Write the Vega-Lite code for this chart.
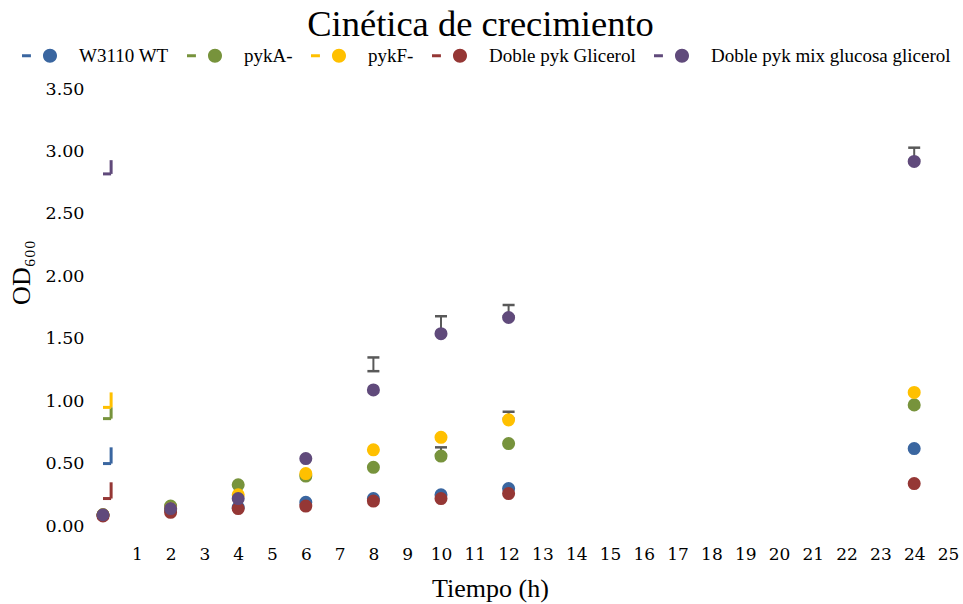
{
  "$schema": "https://vega.github.io/schema/vega-lite/v6.json",
  "width": 845,
  "height": 437,
  "autosize": {"type": "none"},
  "padding": {"left": 103, "top": 89, "right": 15, "bottom": 78},
  "background": "white",
  "title": {
    "text": "Cinética de crecimiento",
    "font": "Liberation Serif",
    "fontSize": 36.5,
    "fontWeight": "normal",
    "color": "#000000",
    "anchor": "middle",
    "frame": "group",
    "dx": -45,
    "baseline": "alphabetic",
    "offset": -34
  },
  "datasets": {
    "points": [
      {"t": 0, "serie": "W3110 WT", "od": 0.09},
      {"t": 2, "serie": "W3110 WT", "od": 0.13},
      {"t": 4, "serie": "W3110 WT", "od": 0.15},
      {"t": 6, "serie": "W3110 WT", "od": 0.19},
      {"t": 8, "serie": "W3110 WT", "od": 0.22},
      {"t": 10, "serie": "W3110 WT", "od": 0.25},
      {"t": 12, "serie": "W3110 WT", "od": 0.30},
      {"t": 24, "serie": "W3110 WT", "od": 0.62},
      {"t": 0, "serie": "pykA-", "od": 0.09},
      {"t": 2, "serie": "pykA-", "od": 0.16},
      {"t": 4, "serie": "pykA-", "od": 0.33},
      {"t": 6, "serie": "pykA-", "od": 0.40},
      {"t": 8, "serie": "pykA-", "od": 0.47},
      {"t": 10, "serie": "pykA-", "od": 0.56},
      {"t": 12, "serie": "pykA-", "od": 0.66},
      {"t": 24, "serie": "pykA-", "od": 0.97},
      {"t": 0, "serie": "pykF-", "od": 0.09},
      {"t": 2, "serie": "pykF-", "od": 0.14},
      {"t": 4, "serie": "pykF-", "od": 0.25},
      {"t": 6, "serie": "pykF-", "od": 0.42},
      {"t": 8, "serie": "pykF-", "od": 0.61},
      {"t": 10, "serie": "pykF-", "od": 0.71},
      {"t": 12, "serie": "pykF-", "od": 0.85},
      {"t": 24, "serie": "pykF-", "od": 1.07},
      {"t": 0, "serie": "Doble pyk Glicerol", "od": 0.08},
      {"t": 2, "serie": "Doble pyk Glicerol", "od": 0.11},
      {"t": 4, "serie": "Doble pyk Glicerol", "od": 0.14},
      {"t": 6, "serie": "Doble pyk Glicerol", "od": 0.16},
      {"t": 8, "serie": "Doble pyk Glicerol", "od": 0.20},
      {"t": 10, "serie": "Doble pyk Glicerol", "od": 0.22},
      {"t": 12, "serie": "Doble pyk Glicerol", "od": 0.26},
      {"t": 24, "serie": "Doble pyk Glicerol", "od": 0.34},
      {"t": 0, "serie": "Doble pyk mix glucosa glicerol", "od": 0.09},
      {"t": 2, "serie": "Doble pyk mix glucosa glicerol", "od": 0.14},
      {"t": 4, "serie": "Doble pyk mix glucosa glicerol", "od": 0.22},
      {"t": 6, "serie": "Doble pyk mix glucosa glicerol", "od": 0.54},
      {"t": 8, "serie": "Doble pyk mix glucosa glicerol", "od": 1.09},
      {"t": 10, "serie": "Doble pyk mix glucosa glicerol", "od": 1.54},
      {"t": 12, "serie": "Doble pyk mix glucosa glicerol", "od": 1.67},
      {"t": 24, "serie": "Doble pyk mix glucosa glicerol", "od": 2.92}
    ],
    "errors": [
      {"t": 8, "serie": "Doble pyk mix glucosa glicerol", "lo": 1.24, "hi": 1.35},
      {"t": 10, "serie": "Doble pyk mix glucosa glicerol", "lo": 1.55, "hi": 1.68},
      {"t": 12, "serie": "Doble pyk mix glucosa glicerol", "lo": 1.68, "hi": 1.77},
      {"t": 24, "serie": "Doble pyk mix glucosa glicerol", "lo": 2.93, "hi": 3.03},
      {"t": 10, "serie": "pykA-", "lo": 0.57, "hi": 0.63},
      {"t": 12, "serie": "pykF-", "lo": 0.86, "hi": 0.915}
    ],
    "stubs": [
      {"serie": "Doble pyk mix glucosa glicerol", "lo": 2.82, "hi": 2.93},
      {"serie": "pykF-", "lo": 0.95, "hi": 1.07},
      {"serie": "pykA-", "lo": 0.86, "hi": 0.95},
      {"serie": "W3110 WT", "lo": 0.50, "hi": 0.63},
      {"serie": "Doble pyk Glicerol", "lo": 0.22, "hi": 0.35}
    ]
  },
  "config": {
    "view": {"stroke": null},
    "axis": {
      "grid": false,
      "domain": false,
      "ticks": false,
      "tickSize": 0,
      "labelOverlap": false,
      "labelFlush": false,
      "labelFont": "DejaVu Serif",
      "labelFontSize": 17.5,
      "labelColor": "#000000",
      "titleFont": "Liberation Serif",
      "titleFontSize": 26,
      "titleFontWeight": "normal",
      "titleColor": "#000000"
    },
    "legend": {
      "labelFont": "Liberation Serif",
      "labelFontSize": 19,
      "labelColor": "#000000",
      "labelLimit": 0
    }
  },
  "layer": [
    {
      "data": {"name": "stubs"},
      "mark": {"type": "rule", "strokeWidth": 3},
      "encoding": {
        "x": {"datum": 0.24, "type": "quantitative"},
        "y": {"field": "lo", "type": "quantitative"},
        "y2": {"field": "hi"},
        "color": {"field": "serie", "type": "nominal"}
      }
    },
    {
      "data": {"name": "stubs"},
      "mark": {"type": "rule", "strokeWidth": 3},
      "encoding": {
        "x": {"datum": 0, "type": "quantitative"},
        "x2": {"datum": 0.24},
        "y": {"field": "lo", "type": "quantitative"},
        "color": {"field": "serie", "type": "nominal"}
      }
    },
    {
      "data": {"name": "errors"},
      "mark": {"type": "rule", "stroke": "#595959", "strokeWidth": 2},
      "encoding": {
        "x": {"field": "t", "type": "quantitative"},
        "y": {"field": "lo", "type": "quantitative"},
        "y2": {"field": "hi"}
      }
    },
    {
      "data": {"name": "errors"},
      "mark": {"type": "point", "shape": "stroke", "size": 144, "stroke": "#595959", "strokeWidth": 2.5, "opacity": 1, "filled": false},
      "encoding": {
        "x": {"field": "t", "type": "quantitative"},
        "y": {"field": "hi", "type": "quantitative"}
      }
    },
    {
      "data": {"name": "errors"},
      "mark": {"type": "point", "shape": "stroke", "size": 144, "stroke": "#595959", "strokeWidth": 2.5, "opacity": 1, "filled": false},
      "encoding": {
        "x": {"field": "t", "type": "quantitative"},
        "y": {"field": "lo", "type": "quantitative"}
      }
    },
    {
      "data": {"name": "points"},
      "mark": {"type": "point", "shape": "circle", "filled": true, "size": 170, "opacity": 1},
      "encoding": {
        "x": {
          "field": "t",
          "type": "quantitative",
          "scale": {"domain": [0, 25], "nice": false, "zero": false},
          "axis": {
            "values": [1,2,3,4,5,6,7,8,9,10,11,12,13,14,15,16,17,18,19,20,21,22,23,24,25],
            "tickCount": 40,
            "format": "d",
            "labelOverlap": false,
            "labelFlush": false,
            "labelFontSize": 17,
            "labelPadding": 20,
            "title": "Tiempo (h)",
            "titleX": 387,
            "titleY": 70,
            "titleBaseline": "alphabetic",
            "titleAnchor": null,
            "titleAlign": "center"
          }
        },
        "y": {
          "field": "od",
          "type": "quantitative",
          "scale": {"domain": [0, 3.5], "nice": false},
          "axis": {
            "values": [0, 0.5, 1, 1.5, 2, 2.5, 3, 3.5],
            "tickCount": 20,
            "format": ".2f",
            "labelOverlap": false,
            "labelFlush": false,
            "labelPadding": 19,
            "title": "OD₆₀₀",
            "titleX": -82,
            "titleY": 183,
            "titleAngle": -90,
            "titleBaseline": "middle",
            "titleAlign": "center",
            "titleAnchor": null
          }
        },
        "color": {
          "field": "serie",
          "type": "nominal",
          "scale": {
            "domain": ["W3110 WT", "pykA-", "pykF-", "Doble pyk Glicerol", "Doble pyk mix glucosa glicerol"],
            "range": ["#3A66A0", "#77933C", "#FFC000", "#953735", "#604A7B"]
          },
          "legend": {
            "title": null,
            "orient": "none",
            "legendX": -81,
            "legendY": -51,
            "direction": "horizontal",
            "columns": 5,
            "columnPadding": 18,
            "labelOffset": 22,
            "symbolType": "M-1,-0.09H-0.49V0.09H-1Z M0.2,0 A0.4,0.4 0 1,0 1,0 A0.4,0.4 0 1,0 0.2,0 Z",
            "symbolSize": 1225,
            "symbolStrokeWidth": 0,
            "symbolOpacity": 1
          }
        }
      }
    }
  ]
}
